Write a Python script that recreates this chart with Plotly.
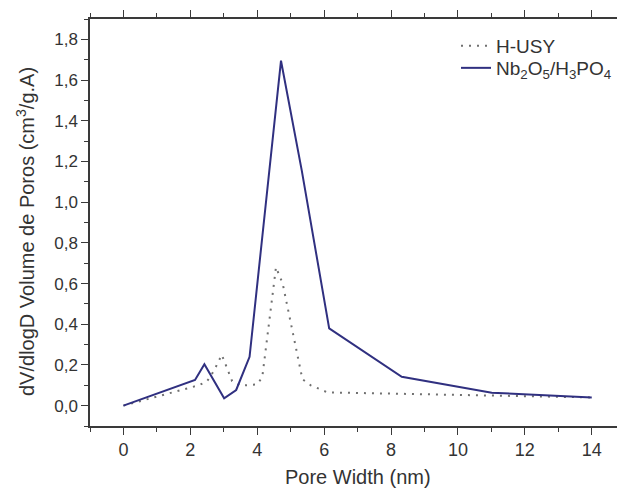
import plotly.graph_objects as go

# Pore size distribution (BJH), pore width in nm
husy_width = [0.0, 2.25, 2.5, 2.7, 2.94, 3.25, 3.5, 4.0, 4.15, 4.56, 4.66, 4.76, 5.35, 5.6, 6.1, 11.0, 14.1]
husy_dv = [0.0, 0.10, 0.12, 0.17, 0.25, 0.12, 0.098, 0.105, 0.14, 0.68, 0.64, 0.60, 0.13, 0.10, 0.065, 0.05, 0.04]

nb_width = [0.0, 2.14, 2.42, 3.01, 3.37, 3.77, 4.71, 5.33, 6.15, 8.32, 11.01, 14.0]
nb_dv = [0.0, 0.126, 0.203, 0.036, 0.077, 0.24, 1.695, 1.156, 0.38, 0.142, 0.064, 0.04]

x_range = [-1.0, 14.755]
y_range = [-0.1, 1.9]

font_family = "Arial, Liberation Sans, sans-serif"
axis_color = "#3a3a3a"
text_color = "#333333"

# plot area in pixels: x 90..617, y 19..426
def px_x(p):
    return (p - 90) / 527

def px_y(p):
    return 1 - (p - 19) / 407

fig = go.Figure()
fig.add_trace(go.Scatter(
    x=husy_width, y=husy_dv, mode="lines", name="H-USY",
    line=dict(color="#707070", width=2, dash="2px,6px"),
    legend="legend",
))
fig.add_trace(go.Scatter(
    x=nb_width, y=nb_dv, mode="lines",
    name="Nb<sub>2</sub>O<sub>5</sub>/H<sub>3</sub>PO<sub>4</sub>",
    line=dict(color="#303080", width=2),
    legend="legend2",
))

legend_common = dict(
    xanchor="left", yanchor="top",
    bgcolor="rgba(0,0,0,0)", font=dict(size=19, color=text_color),
    itemwidth=30,
)

fig.update_layout(
    width=617, height=488,
    margin=dict(l=90, r=0, t=19, b=62),
    paper_bgcolor="white", plot_bgcolor="white",
    separators=", ",
    font=dict(family=font_family, color=text_color, size=17),
    showlegend=True,
    legend=dict(x=px_x(456), y=px_y(27), **legend_common),
    legend2=dict(x=px_x(456), y=px_y(49), **legend_common),
    xaxis=dict(
        range=x_range, dtick=2, tick0=0,
        showgrid=False, zeroline=False,
        showline=True, linecolor=axis_color, linewidth=1.5,
        mirror="ticks", ticks="outside", ticklen=7, tickwidth=1.2, tickcolor=axis_color,
        minor=dict(dtick=1, ticks="outside", ticklen=4, tickwidth=1.2, tickcolor=axis_color),
        tickfont=dict(size=18, color=text_color),
    ),
    yaxis=dict(
        range=y_range, dtick=0.2, tick0=0, tickformat=".1f",
        showgrid=False, zeroline=False,
        showline=True, linecolor=axis_color, linewidth=1.5,
        ticks="outside", ticklen=7, tickwidth=1.2, tickcolor=axis_color,
        minor=dict(dtick=0.1, ticks="outside", ticklen=4, tickwidth=1.2, tickcolor=axis_color),
        tickfont=dict(size=17, color=text_color),
    ),
    annotations=[
        dict(
            text="Pore Width (nm)", xref="paper", yref="paper",
            x=px_x(358), y=px_y(477), xanchor="center", yanchor="middle",
            showarrow=False, font=dict(size=20, color=text_color),
        ),
        dict(
            text="dV/dlogD Volume de Poros (cm<sup>3</sup>/g.A)", xref="paper", yref="paper",
            x=px_x(25), y=px_y(232), xanchor="center", yanchor="middle",
            textangle=-90, showarrow=False, font=dict(size=20, color=text_color),
        ),
    ],
)

fig.write_html("out.html")
